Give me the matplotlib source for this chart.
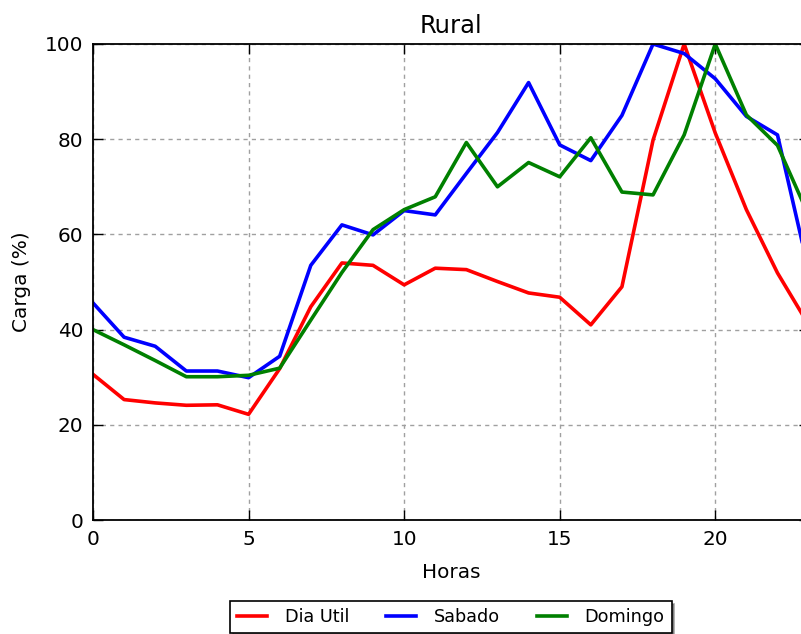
import matplotlib
matplotlib.use("Agg")
import matplotlib.pyplot as plt

horas = list(range(24))
dia_util = [30.6, 25.3, 24.6, 24.1, 24.2, 22.2, 31.8, 44.8, 54.0, 53.5, 49.4, 52.9,
            52.6, 50.1, 47.7, 46.8, 41.0, 49.0, 79.8, 100.0, 81.3, 65.2, 51.9, 41.0]
sabado = [45.6, 38.4, 36.5, 31.3, 31.3, 29.9, 34.4, 53.5, 62.0, 59.9, 65.0, 64.1,
          72.8, 81.4, 91.9, 78.8, 75.5, 85.0, 100.0, 98.0, 92.7, 84.8, 80.9, 52.5]
domingo = [40.0, 36.8, 33.5, 30.1, 30.1, 30.4, 31.9, 42.0, 52.0, 61.0, 65.2, 67.9,
           79.3, 70.0, 75.1, 72.1, 80.3, 68.9, 68.3, 80.9, 100.0, 85.1, 78.7, 64.0]
nomes = ["Dia Util", "Sabado", "Domingo"]
cores = ["red", "blue", "green"]

fig = plt.figure(figsize=(8.01, 6.34), dpi=100)
ax = fig.add_axes([0.1161, 0.1798, 0.8934, 0.7508])

for serie, nome, cor in zip([dia_util, sabado, domingo], nomes, cores):
    ax.plot(horas, serie, color=cor, lw=2.6, label=nome)

ax.set_xlim(0, 23)
ax.set_ylim(0, 100)
ax.set_xticks([0, 5, 10, 15, 20])
ax.set_yticks([0, 20, 40, 60, 80, 100])
ax.grid(True, linestyle="--", color="#a0a0a0", lw=1.0, dashes=(3, 3))
ax.tick_params(direction="in", top=True, right=True, length=7, width=1,
               labelsize=14.4, pad=7)
for s in ax.spines.values():
    s.set_linewidth(1.3)

ax.set_title("Rural", fontsize=17.5, pad=8)
ax.set_xlabel("Horas", fontsize=14.4, labelpad=10)
ax.set_ylabel("Carga (%)", fontsize=14.4, labelpad=10)

leg = ax.legend(loc="upper center", bbox_to_anchor=(0.5, -0.17), ncol=3,
                shadow=True, fancybox=False, fontsize=12.7, handlelength=1.7,
                handletextpad=1.0, columnspacing=2.1, borderaxespad=0.0)
leg.get_frame().set_edgecolor("black")
leg.get_frame().set_linewidth(1.2)

fig.savefig("out.png", dpi=100)
